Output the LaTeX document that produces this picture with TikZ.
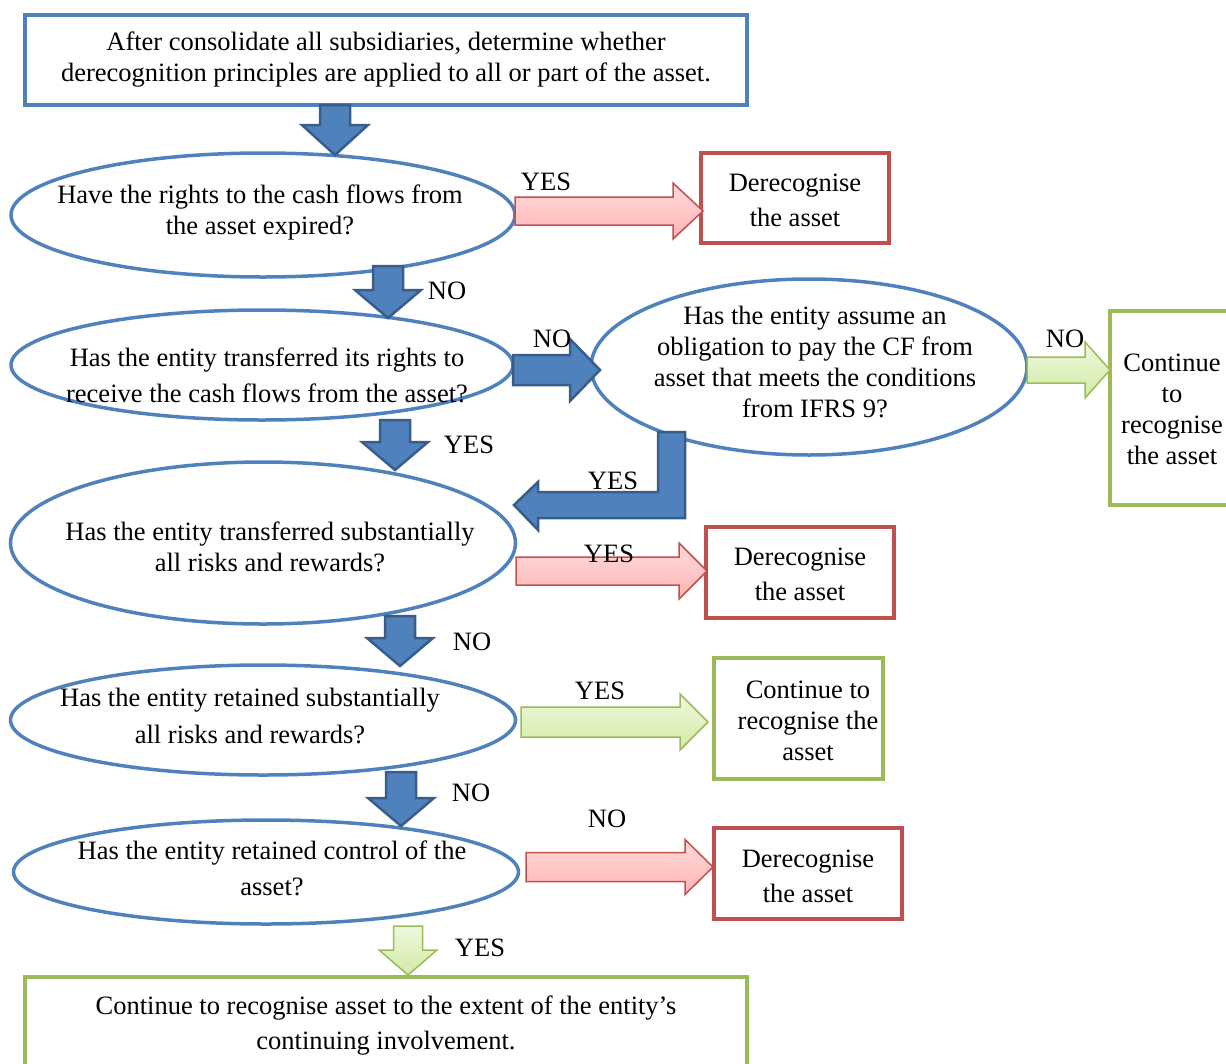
\documentclass[tikz,border=0pt]{standalone}
\usepackage{fontspec}
\setmainfont{Liberation Serif}
\usetikzlibrary{shapes.geometric}
\definecolor{blueline}{HTML}{4F81BD}
\definecolor{bluedark}{HTML}{385D8A}
\definecolor{redline}{HTML}{C0504D}
\definecolor{greenline}{HTML}{9BBB59}
\definecolor{pinktop}{HTML}{FFDADA}
\definecolor{pinkbot}{HTML}{FFB4B4}
\definecolor{greentop}{HTML}{EEF8DC}
\definecolor{greenbot}{HTML}{D2EBA6}
\tikzset{
  qell/.style={ellipse, draw=blueline, line width=3.5pt, inner sep=0pt},
  redbox/.style={draw=redline, line width=3.5pt},
  greenbox/.style={draw=greenline, line width=3.5pt},
  bluebox/.style={draw=blueline, line width=3.5pt},
  txt/.style={align=center, inner sep=0pt, font=\fontsize{26.5}{31}\selectfont},
  lbl/.style={inner sep=0pt, font=\fontsize{26.5}{30}\selectfont},
  bluearrow/.style={fill=blueline, draw=bluedark, line width=2.5pt, line join=miter},
  pinkarrow/.style={top color=pinktop, bottom color=pinkbot, draw=redline, line width=1.5pt},
  greenarrow/.style={top color=greentop, bottom color=greenbot, draw=greenline, line width=1.5pt},
}
% block arrow pointing right: style, x start, x tip, y centre, shaft half, head half, head length
\newcommand{\rblock}[7]{%
  \draw[#1] (#2,#4-#5) -- (#3-#7,#4-#5) -- (#3-#7,#4-#6) -- (#3,#4)
    -- (#3-#7,#4+#6) -- (#3-#7,#4+#5) -- (#2,#4+#5) -- cycle;}
% block arrow pointing down: style, x centre, y start, y tip, shaft half, head half, head length
\newcommand{\dblock}[7]{%
  \draw[#1] (#2-#5,#3) -- (#2+#5,#3) -- (#2+#5,#4-#7) -- (#2+#6,#4-#7) -- (#2,#4)
    -- (#2-#6,#4-#7) -- (#2-#5,#4-#7) -- cycle;}
\begin{document}
\begin{tikzpicture}[x=1pt,y=-1pt]
\useasboundingbox (0,0) rectangle (1226,1063);

% start box
\draw[bluebox] (25,15) rectangle (747,105);
\node[txt] (start) at (386,60) {After consolidate all subsidiaries, determine whether\\derecognition principles are applied to all or part of the asset.};

% question ellipses
\node[qell, minimum width=504pt, minimum height=124pt] (q1) at (263,215) {};
\node[qell, minimum width=502pt, minimum height=110pt] (q2) at (262,365) {};
\node[qell, minimum width=436pt, minimum height=176pt] (q3) at (809,367) {};
\node[qell, minimum width=505pt, minimum height=162pt] (q4) at (263,543) {};
\node[qell, minimum width=505pt, minimum height=110pt] (q5) at (263,720) {};
\node[qell, minimum width=505pt, minimum height=104pt] (q6) at (266,872) {};

\node[txt] (t1) at (260,212) {Have the rights to the cash flows from\\the asset expired?};
\node[txt, font=\fontsize{26.5}{36}\selectfont] (t2) at (267,375) {Has the entity transferred its rights to\\receive the cash flows from the asset?};
\node[txt] (t3) at (815,362) {Has the entity assume an\\obligation to pay the CF from\\asset that meets the conditions\\from IFRS 9?};
\node[txt] (t4) at (270,547) {Has the entity transferred substantially\\all risks and rewards?};
\node[txt, font=\fontsize{26.5}{37}\selectfont] (t5) at (250,716) {Has the entity retained substantially\\all risks and rewards?};
\node[txt, font=\fontsize{26.5}{36}\selectfont] (t6) at (272,868) {Has the entity retained control of the\\asset?};

% outcome boxes
\draw[redbox] (701,153) rectangle (889,243);
\node[txt, font=\fontsize{26.5}{35}\selectfont] (o1) at (795,200) {Derecognise\\the asset};
\draw[greenbox] (1110,311) rectangle (1240,505);
\node[txt] (o2) at (1172,409) {Continue\\to\\recognise\\the asset};
\draw[redbox] (706,527) rectangle (894,618);
\node[txt, font=\fontsize{26.5}{35}\selectfont] (o3) at (800,574) {Derecognise\\the asset};
\draw[greenbox] (714,658) rectangle (883,779);
\node[txt] (o4) at (808,721) {Continue to\\recognise the\\asset};
\draw[redbox] (714,828) rectangle (902,919);
\node[txt, font=\fontsize{26.5}{35}\selectfont] (o5) at (808,876) {Derecognise\\the asset};
\draw[greenbox] (25,977) rectangle (747,1080);
\node[txt, font=\fontsize{26.5}{35}\selectfont] (o6) at (386,1026) {Continue to recognise asset to the extent of the entity’s\\continuing involvement.};

% downward flow arrows
\dblock{bluearrow}{335}{105}{155}{15}{33}{30}
\dblock{bluearrow}{388}{266}{318}{15}{33}{28}
\dblock{bluearrow}{395}{420}{470}{15}{33}{28}
\dblock{bluearrow}{400}{616}{666}{15}{33}{28}
\dblock{bluearrow}{401}{772}{826}{15}{33}{28}
\dblock{greenarrow}{408}{926}{975}{14.5}{29}{25}

% sideways flow arrows
\rblock{pinkarrow}{515}{703}{211}{14}{28}{30}
\rblock{bluearrow}{513}{600}{370}{15}{31}{30}
\rblock{greenarrow}{1027}{1110}{370}{13}{28}{25}
\rblock{pinkarrow}{516}{707}{571}{14}{28}{28}
\rblock{greenarrow}{521}{708}{722}{15}{28}{28}
\rblock{pinkarrow}{526}{713}{867}{14.5}{27.5}{28}

% bent arrow from the obligation test back to the risks test
\draw[bluearrow] (658,432) -- (685,432) -- (685,518) -- (538,518) -- (538,530)
  -- (514,505) -- (538,482) -- (538,492) -- (658,492) -- cycle;

% branch labels
\node[lbl] (l1) at (546,182) {YES};
\node[lbl] (l2) at (447,291) {NO};
\node[lbl] (l3) at (552,339) {NO};
\node[lbl] (l4) at (1065,339) {NO};
\node[lbl] (l5) at (469,445) {YES};
\node[lbl] (l6) at (613,481) {YES};
\node[lbl] (l7) at (609,554) {YES};
\node[lbl] (l8) at (472,642) {NO};
\node[lbl] (l9) at (600,691) {YES};
\node[lbl] (l10) at (471,793) {NO};
\node[lbl] (l11) at (607,819) {NO};
\node[lbl] (l12) at (480,948) {YES};
\end{tikzpicture}
\end{document}
